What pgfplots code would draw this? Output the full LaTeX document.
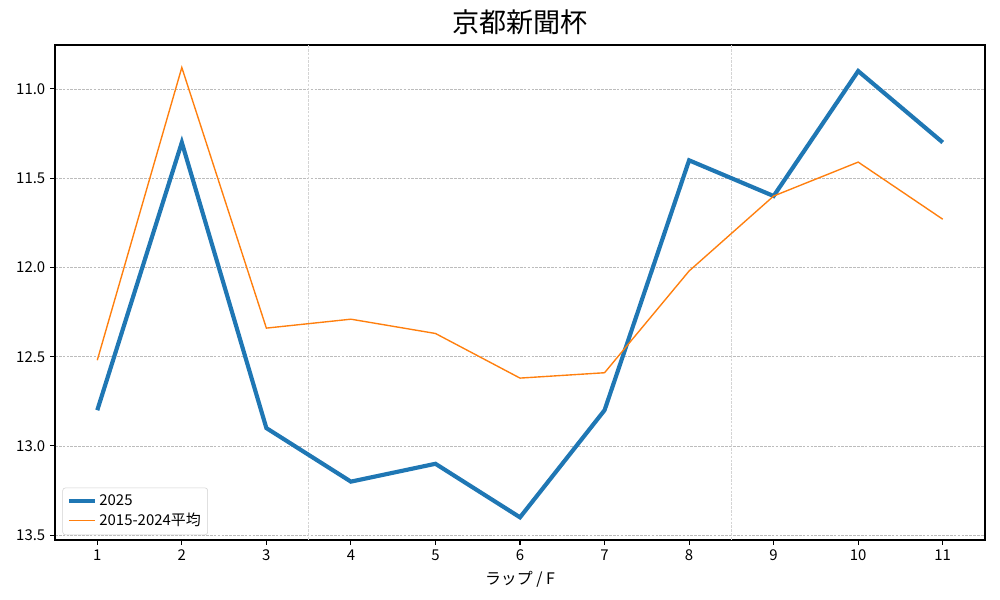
\documentclass[border=0pt]{standalone}
\usepackage{fontspec}
\setmainfont{Noto Sans CJK JP}
\usepackage{pgfplots}
\pgfplotsset{compat=1.18}
\definecolor{tabblue}{HTML}{1F77B4}
\definecolor{taborange}{HTML}{FF7F0E}
\definecolor{gridgrey}{HTML}{B0B0B0}

\begin{document}
\begin{tikzpicture}[x=1in,y=1in]
\path[use as bounding box] (0,0) rectangle (10,6);
\begin{axis}[
    at={(0.55in,0.60in)}, anchor=south west,
    scale only axis,
    width=9.30in, height=4.95in,
    xmin=0.5, xmax=11.5,
    ymin=10.754, ymax=13.527,
    y dir=reverse,
    xtick={1,...,11},
    ytick={11,11.5,12,12.5,13,13.5},
    yticklabel style={/pgf/number format/.cd, fixed, fixed zerofill, precision=1},
    /pgf/number format/assume math mode=true,
    tick align=outside,
    xtick pos=bottom, ytick pos=left,
    major tick length=3.5pt,
    tick style={black, line width=0.8pt},
    ticklabel style={font=\fontsize{10.8}{12}\selectfont},
    axis line style={line width=0.8pt},
    ymajorgrids,
    major grid style={gridgrey!85, dash pattern=on 1.9pt off 0.9pt, line width=0.5pt},
    extra x ticks={3.5,8.5},
    extra x tick labels={},
    extra x tick style={grid=major, major tick length=0pt,
        major grid style={gridgrey!55, dash pattern=on 1.9pt off 0.9pt, line width=0.5pt}},
    title={京都新聞杯},
    title style={font=\fontsize{19.6}{22}\selectfont, yshift=-2pt},
    xlabel={ラップ / F},
    xlabel style={font=\fontsize{11.5}{14}\selectfont, yshift=3pt},
    legend cell align=left,
    legend style={at={(0.008,0.01)}, anchor=south west,
        font=\fontsize{10.8}{12}\selectfont,
        draw=black!18, rounded corners=2pt, fill=white, fill opacity=0.8,
        text opacity=1, row sep=0pt, inner sep=3pt},
    legend image code/.code={\draw[#1] (0cm,0cm) -- (0.65cm,0cm);},
]
\addplot[tabblue, line width=3pt] coordinates {
    (1,12.8) (2,11.3) (3,12.9) (4,13.2) (5,13.1) (6,13.4)
    (7,12.8) (8,11.4) (9,11.6) (10,10.9) (11,11.3)};
\addlegendentry{2025}
\addplot[taborange, line width=1pt] coordinates {
    (1,12.52) (2,10.88) (3,12.34) (4,12.29) (5,12.37) (6,12.62)
    (7,12.59) (8,12.02) (9,11.60) (10,11.41) (11,11.73)};
\addlegendentry{2015-2024平均}
\end{axis}
\end{tikzpicture}
\end{document}
